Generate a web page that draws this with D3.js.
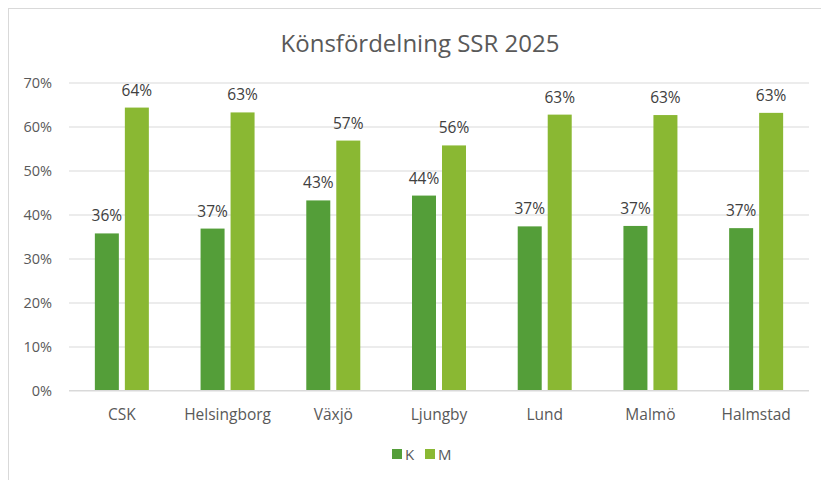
<!DOCTYPE html>
<meta charset="utf-8">
<style>
body { margin: 0; background: #fff; }
text { font-family: "Open Sans", "Noto Sans", sans-serif; fill: #595959; }
.grid line { stroke: #d9d9d9; stroke-width: 1; }
.grid path { display: none; }
</style>
<svg width="821" height="480"></svg>
<script src="https://cdn.jsdelivr.net/npm/d3@7"></script>
<script>

// data
var categories = ["CSK", "Helsingborg", "Växjö", "Ljungby", "Lund", "Malmö", "Halmstad"];
var seriesNames = ["K", "M"];
var valuesK = [0.357, 0.368, 0.432, 0.443, 0.373, 0.374, 0.369];
var valuesM = [0.643, 0.632, 0.568, 0.557, 0.627, 0.626, 0.631];
var yTicks = [0, 0.1, 0.2, 0.3, 0.4, 0.5, 0.6, 0.7];
var colors = ["#549e39", "#8ab833"];

var svg = d3.select("svg");

// chart frame (only top/left edge visible in the crop)
svg.append("rect")
    .attr("x", 8.5).attr("y", 8.5)
    .attr("width", 830).attr("height", 490)
    .attr("fill", "none")
    .attr("stroke", "#d9d9d9");

svg.append("text")
    .attr("x", 420).attr("y", 52)
    .attr("text-anchor", "middle")
    .style("font-size", "24px")
    .text("Könsfördelning SSR 2025");

var y = d3.scaleLinear()
    .domain([0, 0.7])
    .range([390.5, 82.5]);

var x0 = d3.scaleBand()
    .domain(categories)
    .range([69, 809])
    .padding(0);

var x1 = d3.scaleBand()
    .domain(seriesNames)
    .range([0, 54])
    .paddingInner(0.2);

var groupOffset = (x0.bandwidth() - 54) / 2;

// gridlines
svg.append("g")
    .attr("class", "grid")
    .attr("transform", "translate(69,0)")
    .call(d3.axisRight(y).tickValues(yTicks).tickSize(740).tickFormat(""));

// y tick labels
svg.append("g").selectAll("text")
    .data(yTicks)
    .enter().append("text")
      .attr("x", 52)
      .attr("y", function(d) { return y(d) + 5; })
      .attr("text-anchor", "end")
      .style("font-size", "14.5px")
      .text(d3.format(".0%"));

var rows = categories.map(function(c, i) {
  return { cat: c, vals: [valuesK[i], valuesM[i]] };
});

var groups = svg.append("g").selectAll("g")
    .data(rows)
    .enter().append("g")
      .attr("transform", function(d) { return "translate(" + (x0(d.cat) + groupOffset) + ",0)"; });

groups.selectAll("rect")
    .data(function(d) { return d.vals.map(function(v, j) { return { key: seriesNames[j], v: v, j: j }; }); })
    .enter().append("rect")
      .attr("x", function(d) { return x1(d.key); })
      .attr("y", function(d) { return y(d.v); })
      .attr("width", x1.bandwidth())
      .attr("height", function(d) { return y(0) - y(d.v); })
      .attr("fill", function(d) { return colors[d.j]; });

groups.selectAll("text")
    .data(function(d) { return d.vals.map(function(v, j) { return { key: seriesNames[j], v: v }; }); })
    .enter().append("text")
      .attr("x", function(d) { return x1(d.key) + x1.bandwidth() / 2; })
      .attr("y", function(d) { return y(d.v) - 12; })
      .attr("text-anchor", "middle")
      .style("font-size", "15.5px")
      .style("fill", "#404040")
      .text(function(d) { return d3.format(".0%")(d.v); });

// category axis line
svg.append("line")
    .attr("x1", 69).attr("x2", 809)
    .attr("y1", y(0)).attr("y2", y(0))
    .attr("stroke", "#d9d9d9");

svg.append("g").selectAll("text")
    .data(categories)
    .enter().append("text")
      .attr("x", function(d) { return x0(d) + x0.bandwidth() / 2; })
      .attr("y", 420)
      .attr("text-anchor", "middle")
      .style("font-size", "15.5px")
      .text(function(d) { return d; });

// legend
var legendX = [392, 425];
var legend = svg.append("g").selectAll("g")
    .data(seriesNames)
    .enter().append("g")
      .attr("transform", function(d, i) { return "translate(" + legendX[i] + ",449)"; });

legend.append("rect")
    .attr("width", 10).attr("height", 10)
    .attr("fill", function(d, i) { return colors[i]; });

legend.append("text")
    .attr("x", 13).attr("y", 11)
    .style("font-size", "15px")
    .text(function(d) { return d; });

</script>
